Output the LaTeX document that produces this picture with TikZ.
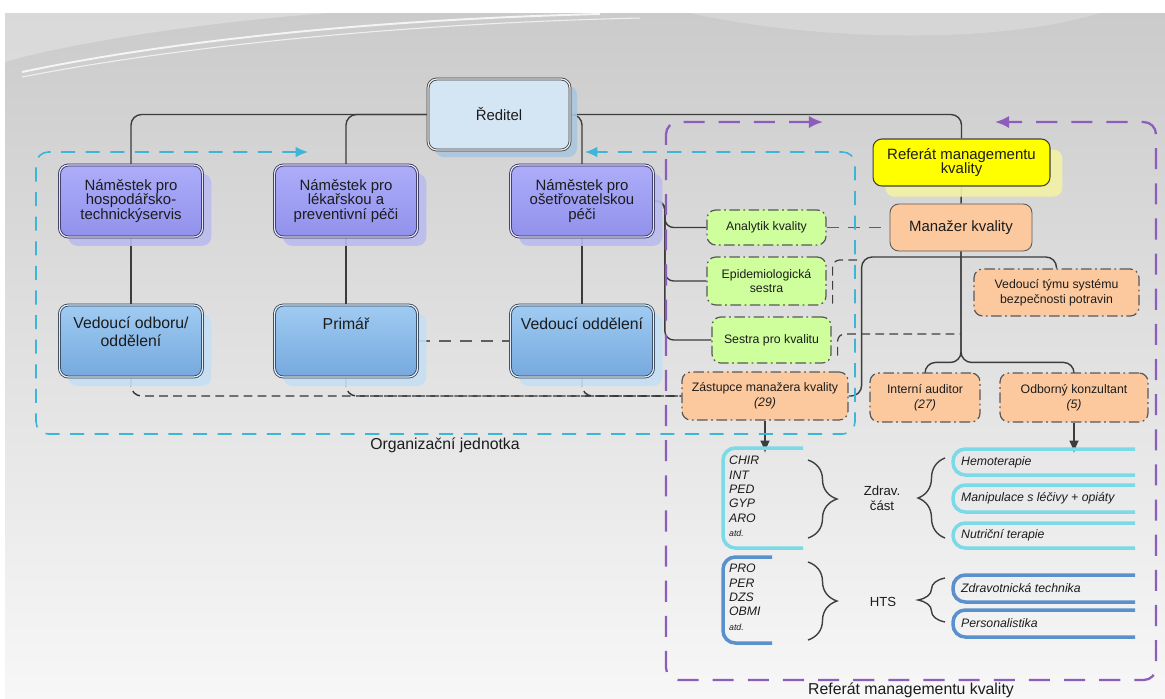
\documentclass[tikz,border=0pt]{standalone}
\usepackage{fontspec}
\setmainfont{Liberation Sans}
\usetikzlibrary{shadows,arrows.meta,decorations.pathreplacing,calc}

\definecolor{bgtop}{HTML}{CBCBCB}
\definecolor{bgmid}{HTML}{DDDDDD}
\definecolor{bgbot}{HTML}{F7F7F7}
\definecolor{inkc}{HTML}{1C1C1C}
\definecolor{linec}{HTML}{3C3C3C}
\definecolor{dirfill}{HTML}{D4E5F4}
\definecolor{dirshadow}{HTML}{A9C6E0}
\definecolor{deptop}{HTML}{ADADFA}
\definecolor{depbot}{HTML}{9191EC}
\definecolor{depshadow}{HTML}{BCBCF0}
\definecolor{deprule}{HTML}{2C2C58}
\definecolor{headtop}{HTML}{A0CBF2}
\definecolor{headbot}{HTML}{76A9DE}
\definecolor{headshadow}{HTML}{C6DEF3}
\definecolor{headrule}{HTML}{2B3C52}
\definecolor{qmyellow}{HTML}{FFFF00}
\definecolor{qmshadow}{HTML}{F2F2A6}
\definecolor{peach}{HTML}{FCC99E}
\definecolor{lime}{HTML}{CEFF9C}
\definecolor{orgcyan}{HTML}{3DB5D8}
\definecolor{refpurple}{HTML}{8C5DBB}
\definecolor{listcyan}{HTML}{7ADAE7}
\definecolor{listblue}{HTML}{5A90CB}
\definecolor{dashgray}{HTML}{5E5E5E}

\pgfdeclarelayer{back}
\pgfdeclarelayer{links}
\pgfsetlayers{back,links,main}

\tikzset{
  orgline/.style={draw=linec, line width=0.8pt},
  ruledbox/.style={line width=0.45pt, double distance=0.7pt, rounded corners=5pt,
    align=center, text=inkc, inner sep=2pt},
  dirbox/.style={ruledbox, draw=linec, double=white!85!gray, fill=dirfill,
    minimum width=2.84cm, minimum height=1.42cm, font=\fontsize{8.5}{8.5}\selectfont,
    drop shadow={shadow xshift=4pt, shadow yshift=-4pt, fill=dirshadow, opacity=0.9}},
  depbox/.style={ruledbox, draw=deprule, double=white!75!depbot, top color=deptop, bottom color=depbot,
    minimum width=2.86cm, minimum height=1.44cm, font=\fontsize{8.5}{8.5}\selectfont,
    drop shadow={shadow xshift=5pt, shadow yshift=-5pt, fill=depshadow, opacity=0.9}},
  headbox/.style={ruledbox, draw=headrule, double=white!70!headtop, top color=headtop, bottom color=headbot,
    minimum width=2.86cm, minimum height=1.44cm,
    drop shadow={shadow xshift=5pt, shadow yshift=-5pt, fill=headshadow, opacity=0.9}},
  headtext/.style={align=center, text=inkc, font=\fontsize{9}{10.5}\selectfont},
  qmbox/.style={draw=black!75, line width=0.6pt, rounded corners=5pt, fill=qmyellow, align=center,
    text=inkc, minimum width=3.54cm, minimum height=0.94cm, font=\fontsize{8.5}{8}\selectfont,
    drop shadow={shadow xshift=7pt, shadow yshift=-6pt, fill=qmshadow, opacity=0.9}},
  mgrbox/.style={draw=black!65, line width=0.5pt, rounded corners=5pt, fill=peach, align=center,
    text=inkc, minimum width=2.84cm, minimum height=0.94cm, font=\fontsize{8.5}{8.5}\selectfont},
  dotbox/.style={draw=black!65, line width=0.7pt, rounded corners=5pt, align=center, text=inkc,
    dash pattern=on 6pt off 2pt on 1pt off 2pt, inner sep=1pt, font=\fontsize{7}{8.5}\selectfont},
  limebox/.style={dotbox, fill=lime},
  peachbox/.style={dotbox, fill=peach},
  graydash/.style={draw=dashgray, line width=0.9pt, dash pattern=on 7pt off 5pt},
  inkdash/.style={draw=black!75, line width=0.7pt, dash pattern=on 5pt off 3pt},
  bkdash/.style={draw=black!80, line width=0.8pt, dash pattern=on 5pt off 3pt},
  downarr/.style={draw=linec, line width=0.8pt, -{Latex[length=7pt,width=5.5pt]}},
  orgframe/.style={draw=orgcyan, line width=0.9pt, dash pattern=on 8pt off 6pt,
    {Latex[length=7pt,width=6pt]}-{Latex[length=7pt,width=6pt]}, rounded corners=7pt},
  refframe/.style={draw=refpurple, line width=1.3pt, dash pattern=on 12pt off 8pt,
    {Latex[length=8pt,width=7pt]}-{Latex[length=8pt,width=7pt]}, rounded corners=7pt},
  listc/.style={draw=listcyan, line width=2pt, rounded corners=7pt},
  listb/.style={draw=listblue, line width=2pt, rounded corners=7pt},
  itl/.style={text=inkc, font=\fontsize{7}{8.2}\selectfont\itshape, inner sep=1pt},
  brc/.style={draw=black!75, line width=0.8pt, decorate},
  grouplbl/.style={text=inkc, align=center, font=\fontsize{7.5}{8.5}\selectfont},
  caption/.style={text=inkc, inner sep=1pt},
}

\begin{document}
\begin{tikzpicture}[x=0.02cm, y=-0.02cm]
\useasboundingbox (0,0) rectangle (1165,698);

% ---------- page background ----------
\begin{pgfonlayer}{back}
  \fill[white] (0,0) rectangle (1165,698);
  \shade[top color=bgtop, middle color=bgmid, bottom color=bgbot] (5,13) rectangle (1165,698);
  \fill[white, opacity=0.28] (5,13) -- (330,13) .. controls (200,22) and (60,45) .. (5,62) -- cycle;
  \fill[white, opacity=0.2] (690,13) .. controls (820,42) and (1000,44) .. (1100,13) -- cycle;
  \draw[white, line width=1.1pt, opacity=0.8] (22,72) .. controls (150,45) and (350,20) .. (600,14);
  \draw[white, line width=0.6pt, opacity=0.7] (22,77) .. controls (160,50) and (380,24) .. (640,18);
\end{pgfonlayer}

% ---------- management chain ----------
\node[dirbox] (dir) at (499,114.5) {Ředitel};

\node[depbox] (d1) at (131,201) {Náměstek pro\\hospodářsko-\\technickýservis};
\node[depbox] (d2) at (346,201) {Náměstek pro\\lékařskou a\\preventivní péči};
\node[depbox] (d3) at (582,201) {Náměstek pro\\ošetřovatelskou\\péči};

\node[headbox] (h1) at (131,341) {};
\node[headtext] (h1t) at (131,332) {Vedoucí odboru/\\oddělení};
\node[headbox] (h2) at (346,341) {};
\node[headtext] (h2t) at (346,324) {Primář};
\node[headbox] (h3) at (582,341) {};
\node[headtext] (h3t) at (582,324) {Vedoucí oddělení};

% ---------- quality management ----------
\node[qmbox] (qm) at (961.5,162.5) {Referát managementu\\kvality};
\node[mgrbox] (mgr) at (961,227.5) {Manažer kvality};

\node[limebox, minimum width=2.38cm, minimum height=0.70cm] (ana) at (766.5,227.5) {Analytik kvality};
\node[limebox, minimum width=2.38cm, minimum height=0.96cm] (epi) at (766.5,281) {Epidemiologická\\sestra};
\node[limebox, minimum width=2.38cm, minimum height=0.92cm] (ses) at (771.5,340) {Sestra pro kvalitu};

\node[peachbox, minimum width=3.30cm, minimum height=0.94cm] (tym) at (1056.5,292.5) {Vedoucí týmu systému\\bezpečnosti potravin};
\node[peachbox, minimum width=3.32cm, minimum height=0.96cm] (zas) at (765,396) {Zástupce manažera kvality\\\textit{(29)}};
\node[peachbox, minimum width=2.20cm, minimum height=0.98cm] (aud) at (925,397.5) {Interní auditor\\\textit{(27)}};
\node[peachbox, minimum width=2.96cm, minimum height=0.98cm] (kon) at (1074,397.5) {Odborný konzultant\\\textit{(5)}};

\coordinate (epiJ) at (861,260);
\coordinate (sesJ) at (961,334);
\coordinate (mgrJ) at (961,257);
\coordinate (zasT) at (765,453);
\coordinate (konT) at (1074,453);

% ---------- connectors ----------
\begin{pgfonlayer}{links}
  \draw[orgline, rounded corners=6pt] (dir.west) -| (d1.north);
  \draw[orgline, rounded corners=6pt] (dir.west) -| (d2.north);
  \draw[orgline, rounded corners=6pt] (dir.east) -| (d3.north);
  \draw[orgline, rounded corners=6pt] (dir.east) -| (qm.north);
  \draw[orgline] (d1.south) -- (h1.north);
  \draw[orgline] (d2.south) -- (h2.north);
  \draw[orgline] (d3.south) -- (h3.north);

  \draw[orgline, rounded corners=5pt] (d3.east) -- ++(11,0) |- (ana.west);
  \draw[orgline, rounded corners=5pt] (d3.east) -- ++(11,0) |- (epi.west);
  \draw[orgline, rounded corners=5pt] (d3.east) -- ++(11,0) |- (ses.west);

  \draw[orgline] (qm.south) -- (mgr.north);
  \draw[orgline, rounded corners=6pt] (mgr.south) -- ++(0,111) -| (aud.north);
  \draw[orgline, rounded corners=6pt] (mgr.south) -- ++(0,111) -| (kon.north);
  \draw[orgline, rounded corners=6pt] (zas.east) -- ++(13,0) |- (mgrJ) -| (tym.north);

  \draw[graydash] (ana.east) -- (mgr.west);
  \draw[graydash] (h2.east) -- (h3.west);
  \draw[inkdash, rounded corners=4pt] ($(epi.south east)+(6,-2)$) |- (epiJ);
  \draw[inkdash, rounded corners=4pt] ($(ses.south east)+(6,-8)$) |- (sesJ);

  \draw[bkdash, rounded corners=6pt] (h1.south) |- (zas.west);
  \draw[bkdash, rounded corners=6pt] (h2.south) |- (zas.west);
  \draw[bkdash, rounded corners=6pt] (h3.south) |- (zas.west);

  \draw[downarr] (zas.south) -- (zasT);
  \draw[downarr] (kon.south) -- (konT);

  % organisational unit and quality office frames
  \draw[orgframe] (308,152) -- (36,152) -- (36,434) -- (855,434) -- (855,152) -- (585,152);
  \draw[refframe] (823,122) -- (666,122) -- (666,680) -- (1156,680) -- (1156,122) -- (995,122);
\end{pgfonlayer}

\node[caption, font=\fontsize{9}{10}\selectfont] (orglbl) at (445,445) {Organizační jednotka};
\node[caption, font=\fontsize{9}{10}\selectfont] (reflbl) at (911,690) {Referát managementu kvality};

% ---------- departments and quality topics ----------
\draw[listc] (803,448) -- (723,448) -- (723,548) -- (803,548);
\draw[listb] (772,557) -- (723,557) -- (723,643) -- (772,643);
\node[itl, anchor=north west, align=left] (g1) at (727,454) {CHIR\\INT\\PED\\GYP\\ARO\\{\fontsize{5}{8.2}\selectfont atd.}};
\node[itl, anchor=north west, align=left] (g2) at (727,562) {PRO\\PER\\DZS\\OBMI\\{\fontsize{5}{8.2}\selectfont atd.}};

\draw[brc, decoration={brace, amplitude=0.58cm}] (808,460) -- (808,538);
\draw[brc, decoration={brace, amplitude=0.58cm}] (808,562) -- (808,640);
\node[grouplbl] (zdr) at (882,498) {Zdrav.\\ část};
\node[grouplbl] (hts) at (883,602) {HTS};
\draw[brc, decoration={brace, amplitude=0.54cm}] (945,538) -- (945,458);
\draw[brc, decoration={brace, amplitude=0.54cm}] (945,622) -- (945,578);

\draw[listc] (1135,449) -- (953,449) -- (953,475) -- (1135,475);
\draw[listc] (1135,485) -- (953,485) -- (953,512) -- (1135,512);
\draw[listc] (1135,523) -- (953,523) -- (953,548) -- (1135,548);
\draw[listb] (1135,575) -- (953,575) -- (953,602) -- (1135,602);
\draw[listb] (1135,610) -- (953,610) -- (953,637) -- (1135,637);
\node[itl, anchor=west] (t1) at (959,462) {Hemoterapie};
\node[itl, anchor=west] (t2) at (959,498.5) {Manipulace s léčivy + opiáty};
\node[itl, anchor=west] (t3) at (959,535.5) {Nutriční terapie};
\node[itl, anchor=west] (t4) at (959,588.5) {Zdravotnická technika};
\node[itl, anchor=west] (t5) at (959,623.5) {Personalistika};
\end{tikzpicture}
\end{document}
